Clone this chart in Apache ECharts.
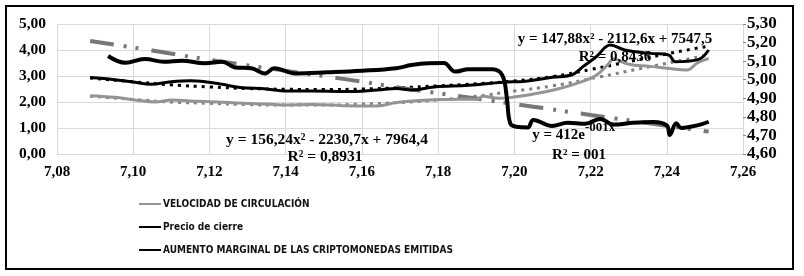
<!DOCTYPE html>
<html>
<head>
<meta charset="utf-8">
<script src="https://cdn.jsdelivr.net/npm/echarts@6/dist/echarts.min.js"></script>
<style>
html,body{margin:0;padding:0;background:#fff;}
#chart{width:804px;height:276px;}
</style>
</head>
<body>
<div id="chart"></div>
<script>
// series (eje x = log, eje izq.)
var velX = [7.0887, 7.095, 7.1005, 7.1057, 7.1102, 7.115, 7.1188, 7.125, 7.1293, 7.135, 7.14, 7.147, 7.155, 7.164, 7.169, 7.175, 7.182, 7.1905, 7.1916, 7.196, 7.2005, 7.2036, 7.21, 7.216, 7.2212, 7.2246, 7.226, 7.23, 7.2356, 7.24, 7.2453, 7.248, 7.251];
var velY = [2.24, 2.18, 2.08, 2.0, 2.08, 2.04, 2.02, 1.98, 1.95, 1.92, 1.88, 1.9, 1.86, 1.85, 1.98, 2.06, 2.1, 2.12, 2.22, 2.14, 2.2, 2.27, 2.45, 2.7, 3.0, 3.45, 3.65, 3.45, 3.37, 3.3, 3.23, 3.5, 3.68];

var precioX = [7.0887, 7.095, 7.1005, 7.1045, 7.11, 7.115, 7.1188, 7.1233, 7.128, 7.135, 7.14, 7.147, 7.1556, 7.164, 7.169, 7.173, 7.179, 7.188, 7.197, 7.203, 7.21, 7.215, 7.218, 7.2215, 7.2252, 7.229, 7.2356, 7.2405, 7.2422, 7.248, 7.251];
var precioY = [2.94, 2.86, 2.76, 2.68, 2.78, 2.82, 2.78, 2.68, 2.56, 2.5, 2.42, 2.42, 2.4, 2.46, 2.52, 2.46, 2.58, 2.64, 2.76, 2.8, 2.95, 3.04, 3.36, 3.74, 4.19, 4.0, 3.87, 3.81, 3.55, 3.62, 4.0];

var aumentoX = [7.0934, 7.098, 7.103, 7.108, 7.1128, 7.1188, 7.1233, 7.1267, 7.131, 7.1346, 7.137, 7.1425, 7.151, 7.16, 7.169, 7.173, 7.1775, 7.1815, 7.1845, 7.188, 7.1942, 7.1968, 7.198, 7.1989, 7.2005, 7.2035, 7.205, 7.2099, 7.214, 7.2186, 7.2225, 7.226, 7.2312, 7.2365, 7.24, 7.2408, 7.2425, 7.2438, 7.2462, 7.249, 7.251];
var aumentoY = [3.77, 3.51, 3.65, 3.55, 3.59, 3.49, 3.55, 3.33, 3.3, 3.1, 3.3, 3.1, 3.14, 3.2, 3.3, 3.42, 3.49, 3.5, 3.17, 3.26, 3.26, 3.04, 2.2, 1.19, 1.05, 1.02, 1.31, 1.08, 1.2, 1.16, 1.35, 1.13, 1.2, 1.23, 1.1, 0.73, 1.18, 1.0, 1.05, 1.14, 1.24];

// lineas de tendencia
var tendVelX = [7.0887, 7.10, 7.11, 7.12, 7.13, 7.14, 7.15, 7.16, 7.17, 7.18, 7.19, 7.20, 7.21, 7.2225, 7.2356, 7.251];
var tendVelY = [2.22, 2.1, 2.0, 1.95, 1.9, 1.88, 1.88, 1.92, 1.98, 2.08, 2.22, 2.42, 2.62, 2.97, 3.36, 3.81];
var tendPrecioX = [7.0887, 7.10, 7.11, 7.12, 7.13, 7.14, 7.15, 7.16, 7.17, 7.18, 7.19, 7.20, 7.21, 7.22, 7.23, 7.24, 7.251];
var tendPrecioY = [2.92, 2.78, 2.66, 2.58, 2.52, 2.49, 2.48, 2.5, 2.55, 2.62, 2.7, 2.81, 2.98, 3.25, 3.55, 3.85, 4.15];
var tendAumX = [7.0887, 7.105, 7.122, 7.156, 7.17, 7.205, 7.22, 7.251];
var tendAumY = [4.35, 3.98, 3.58, 2.87, 2.55, 1.82, 1.5, 0.86];

var nombres = ['VELOCIDAD DE CIRCULACIÓN', 'Precio de cierre', 'AUMENTO MARGINAL DE LAS CRIPTOMONEDAS EMITIDAS'];

function pares(xs, ys) {
	var arr = [];
	for (var i = 0; i < xs.length; i++) {
		arr.push([xs[i], ys[i]]);
	}
	return arr;
}
function coma(v) {
	return v.toFixed(2).replace('.', ',');
}

var serif = '"Liberation Serif", "Times New Roman", serif';
var mychart = echarts.init(document.getElementById('chart'));
var option = {
	backgroundColor: '#fff',
	animation: false,
	grid: {left: 57, right: 61, top: 24, bottom: 122},
	legend: {
		orient: 'vertical',
		left: 133,
		top: 194,
		itemWidth: 22,
		itemHeight: 10,
		itemGap: 13,
		data: nombres,
		itemStyle: {opacity: 0},
		textStyle: {fontFamily: '"DejaVu Sans Condensed", "Liberation Sans", sans-serif', fontSize: 10, fontWeight: 'bold', color: '#111', padding: [0, 0, 0, -3]}
	},
	xAxis: {
		type: 'value',
		min: 7.08,
		max: 7.26,
		interval: 0.02,
		axisLine: {show: false},
		axisTick: {show: false},
		splitLine: {show: true, lineStyle: {color: '#d9d9d9', width: 1}},
		axisLabel: {margin: 11, color: '#000', fontFamily: serif, fontWeight: 'bold', fontSize: 15, formatter: coma}
	},
	yAxis: [{
		type: 'value',
		min: 0,
		max: 5,
		interval: 1,
		axisLine: {show: false},
		axisTick: {show: false},
		splitLine: {show: true, lineStyle: {color: '#d9d9d9', width: 1}},
		axisLabel: {margin: 11, color: '#000', fontFamily: serif, fontWeight: 'bold', fontSize: 15.5, formatter: coma}
	}, {
		type: 'value',
		position: 'right',
		min: 4.6,
		max: 5.3,
		interval: 0.1,
		axisLine: {show: false},
		axisTick: {show: true, length: 3, lineStyle: {color: '#888'}},
		splitLine: {show: false},
		axisLabel: {margin: 4, color: '#000', fontFamily: serif, fontWeight: 'bold', fontSize: 17, formatter: coma}
	}],
	series: [{
		name: 'tendVel',
		type: 'line',
		symbol: 'none',
		smooth: true,
		lineStyle: {color: '#808080', width: 3, type: [3, 5]},
		data: pares(tendVelX, tendVelY)
	}, {
		name: 'tendPrecio',
		type: 'line',
		symbol: 'none',
		smooth: true,
		lineStyle: {color: '#000', width: 3, type: [3, 5]},
		data: pares(tendPrecioX, tendPrecioY)
	}, {
		name: 'tendAum',
		type: 'line',
		symbol: 'none',
		smooth: true,
		lineStyle: {color: '#777', width: 4, type: [24, 10, 3, 9, 3, 13]},
		data: pares(tendAumX, tendAumY)
	}, {
		name: nombres[0],
		type: 'line',
		symbol: 'none',
		smooth: 0.4,
		itemStyle: {color: '#949494'},
		lineStyle: {color: '#949494', width: 3},
		data: pares(velX, velY)
	}, {
		name: nombres[1],
		type: 'line',
		symbol: 'none',
		smooth: 0.4,
		itemStyle: {color: '#000'},
		lineStyle: {color: '#000', width: 3},
		data: pares(precioX, precioY)
	}, {
		name: nombres[2],
		type: 'line',
		symbol: 'none',
		smooth: 0.4,
		itemStyle: {color: '#000'},
		lineStyle: {color: '#000', width: 4},
		data: pares(aumentoX, aumentoY)
	}],
	graphic: [
		{type: 'rect', silent: true, shape: {x: 6, y: 6, width: 787, height: 263}, style: {fill: 'none', stroke: '#000', lineWidth: 2}},
		{type: 'rect', silent: true, shape: {x: 57.5, y: 24.5, width: 686, height: 130}, style: {fill: 'none', stroke: '#555', lineWidth: 1, lineDash: [4, 3]}},
		{type: 'text', silent: true, z: 100, style: {text: 'y = 156,24x² - 2230,7x + 7964,4', x: 327, y: 140, font: 'bold 15.5px ' + serif, fill: '#000', align: 'center', verticalAlign: 'middle', textAlign: 'center', textVerticalAlign: 'middle'}},
		{type: 'text', silent: true, z: 100, style: {text: 'R² = 0,8931', x: 325, y: 157, font: 'bold 15.5px ' + serif, fill: '#000', align: 'center', verticalAlign: 'middle', textAlign: 'center', textVerticalAlign: 'middle'}},
		{type: 'text', silent: true, z: 100, style: {text: 'y = 147,88x² - 2112,6x + 7547,5', x: 615, y: 39, font: 'bold 15px ' + serif, fill: '#000', align: 'center', verticalAlign: 'middle', textAlign: 'center', textVerticalAlign: 'middle'}},
		{type: 'text', silent: true, z: 100, style: {text: 'R² = 0,8436', x: 615, y: 57, font: 'bold 15px ' + serif, fill: '#000', align: 'center', verticalAlign: 'middle', textAlign: 'center', textVerticalAlign: 'middle'}},
		{type: 'text', silent: true, z: 100, style: {text: 'y = 412e', x: 585, y: 135, font: 'bold 15px ' + serif, fill: '#000', align: 'right', verticalAlign: 'middle', textAlign: 'right', textVerticalAlign: 'middle'}},
		{type: 'text', silent: true, z: 100, style: {text: '-001x', x: 585, y: 128, font: 'bold 13px ' + serif, fill: '#000', align: 'left', verticalAlign: 'middle', textAlign: 'left', textVerticalAlign: 'middle'}},
		{type: 'text', silent: true, z: 100, style: {text: 'R² = 001', x: 579, y: 155, font: 'bold 15px ' + serif, fill: '#000', align: 'center', verticalAlign: 'middle', textAlign: 'center', textVerticalAlign: 'middle'}}
	]
};
mychart.setOption(option);
</script>
</body>
</html>
